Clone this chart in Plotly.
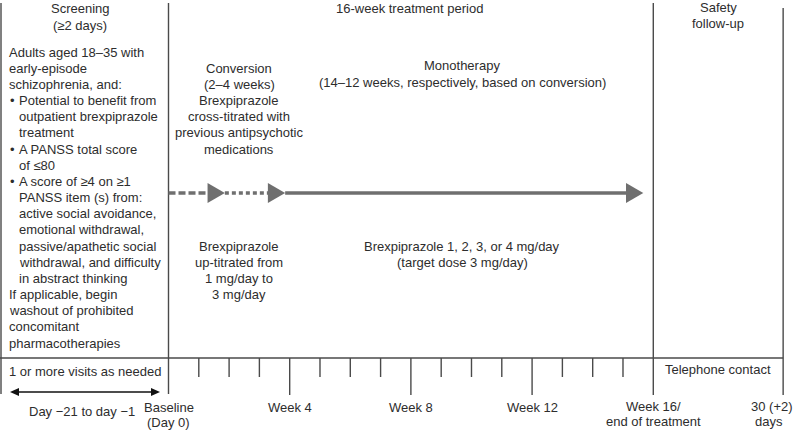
import plotly.graph_objects as go

# Timeline (x axis in weeks from baseline)
WEEKS = list(range(0, 17))
MAJOR_WEEKS = [4, 8, 12]
WEEK_LABELS = ["Week 4", "Week 8", "Week 12"]
FOLLOWUP_DAYS = 30
FOLLOWUP_END = 16 + FOLLOWUP_DAYS / 7

# Arrow stages: (start week, tip week, dash style)
ARROW_STAGES = [(0.0, 1.86, "7px,3px"), (1.86, 3.85, "4px,3px"), (3.85, 15.67, "solid")]

SCREEN_LINES = [
    ("", "Adults aged 18–35 with"),
    ("", "early-episode"),
    ("", "schizophrenia, and:"),
    ("•", "Potential to benefit from"),
    (" ", "outpatient brexpiprazole"),
    (" ", "treatment"),
    ("•", "A PANSS total score"),
    (" ", "of ≤80"),
    ("•", "A score of ≥4 on ≥1"),
    (" ", "PANSS item (s) from:"),
    (" ", "active social avoidance,"),
    (" ", "emotional withdrawal,"),
    (" ", "passive/apathetic social"),
    (" ", "withdrawal, and difficulty"),
    (" ", "in abstract thinking"),
    ("", "If applicable, begin"),
    ("", "washout of prohibited"),
    ("", "concomitant"),
    ("", "pharmacotherapies"),
]
CONVERSION_LINES = ["Conversion", "(2–4 weeks)", "Brexpiprazole", "cross-titrated with",
                    "previous antipsychotic", "medications"]
UPTITRATE_LINES = ["Brexpiprazole", "up-titrated from", "1 mg/day to", "3 mg/day"]
MONO_LINES = ["Monotherapy", "(14–12 weeks, respectively, based on conversion)"]
DOSE_LINES = ["Brexpiprazole 1, 2, 3, or 4 mg/day", "(target dose 3 mg/day)"]

W, H = 800, 431
X_MIN, X_MAX = -5.561, 20.842
LINE = "#4a4a4a"
ARROW = "#6f6f6f"
TXT = "#2d2d2d"
FONT = dict(family="Liberation Sans, Arial, sans-serif", size=13, color=TXT)

fig = go.Figure()
shapes = []
ann = []


def vline(x, y0, y1, xref="x"):
    shapes.append(dict(type="line", xref=xref, yref="y", x0=x, x1=x, y0=y0, y1=y1,
                       line=dict(color=LINE, width=1.4)))


def text(x, y, s, xref="x", anchor="center"):
    ann.append(dict(x=x, y=y, xref=xref, yref="y", text=s, showarrow=False,
                    xanchor=anchor, yanchor="middle", font=FONT))


# column borders
vline(1 / W, 3, 394, xref="paper")
vline(0, 3, 394)
vline(16, 3, 395)
vline(FOLLOWUP_END, 8, 395)

# timeline axis line and ticks
shapes.append(dict(type="line", xref="paper", yref="y", x0=0, x1=(FOLLOWUP_END - X_MIN) / (X_MAX - X_MIN),
                   y0=358, y1=358, line=dict(color=LINE, width=1.4)))
for w in WEEKS[1:-1]:
    vline(w, 358, 395 if w in MAJOR_WEEKS else 377)

# treatment arrow
for x0, tip, dash in ARROW_STAGES:
    head = 0.57
    shapes.append(dict(type="line", xref="x", yref="y", x0=x0, x1=tip - head + 0.05, y0=193, y1=193,
                       line=dict(color=ARROW, width=3.5, dash=dash)))
    shapes.append(dict(type="path", xref="x", yref="y",
                       path=f"M {tip - head},183 L {tip},193 L {tip - head},203 Z",
                       fillcolor=ARROW, line=dict(color=ARROW, width=0)))

# screening double arrow
shapes.append(dict(type="line", xref="paper", yref="y", x0=14 / W, x1=156 / W, y0=392, y1=392,
                   line=dict(color="#111111", width=1.6)))
for a, b in [(10, 19), (160, 151)]:
    shapes.append(dict(type="path", xref="paper", yref="y",
                       path=f"M {a / W},392 L {b / W},388 L {b / W},396 Z",
                       fillcolor="#111111", line=dict(color="#111111", width=0)))

# headers
text(80 / W, 8, "Screening", xref="paper")
text(80 / W, 25, "(≥2 days)", xref="paper")
text(409 / W, 8, "16-week treatment period", xref="paper")
text((16 + FOLLOWUP_END) / 2, 7, "Safety")
text((16 + FOLLOWUP_END) / 2, 23, "follow-up")

# screening criteria
for i, (bullet, s) in enumerate(SCREEN_LINES):
    y = 52 + 16.17 * i
    if bullet == "•":
        text(8 / W, y, "•", xref="paper", anchor="left")
    text((17 if bullet else 7) / W, y, s, xref="paper", anchor="left")

for i, s in enumerate(CONVERSION_LINES):
    text(239 / W, 68 + 16.2 * i, s, xref="paper")
for i, s in enumerate(UPTITRATE_LINES):
    text(239 / W, 246 + 16 * i, s, xref="paper")
for i, s in enumerate(MONO_LINES):
    text(462 / W, 65 + 17 * i, s, xref="paper")
for i, s in enumerate(DOSE_LINES):
    text(462 / W, 246 + 16 * i, s, xref="paper")

# bottom row
text(7 / W, 371, "1 or more visits as needed", xref="paper", anchor="left")
text((16 + FOLLOWUP_END) / 2, 369, "Telephone contact")
text(82 / W, 411, "Day −21 to day −1", xref="paper")
text(0, 407, "Baseline")
text(0, 422, "(Day 0)")
for w, s in zip(MAJOR_WEEKS, WEEK_LABELS):
    text(w, 407, s)
text(16, 406, "Week 16/")
text(16, 421, "end of treatment")
text(772 / W, 406, f"{FOLLOWUP_DAYS} (+2)", xref="paper")
text(769 / W, 421, "days", xref="paper")

fig.update_layout(
    width=W, height=H,
    margin=dict(l=0, r=0, t=0, b=0),
    plot_bgcolor="white", paper_bgcolor="white",
    xaxis=dict(range=[X_MIN, X_MAX], visible=False, fixedrange=True),
    yaxis=dict(range=[H, 0], visible=False, fixedrange=True),
    shapes=shapes, annotations=ann, showlegend=False,
)

# page body has a default 8px margin; drop it so the figure fills the window
fig.write_html("out.html", config={"displayModeBar": False},
               post_script="document.body.style.margin='0px';document.body.style.overflow='hidden';")
